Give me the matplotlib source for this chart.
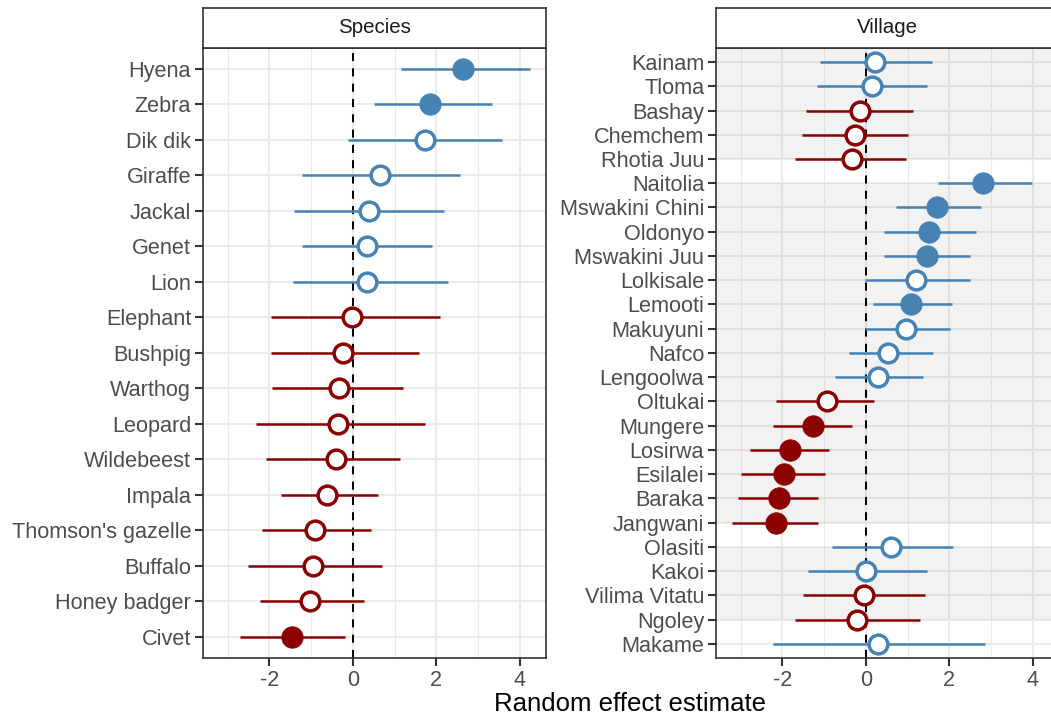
import matplotlib
matplotlib.use("Agg")
import matplotlib.pyplot as plt
import numpy as np

plt.rcParams['font.family'] = ['Liberation Sans', 'DejaVu Sans']

# ---------------- data ----------------
species = ["Hyena", "Zebra", "Dik dik", "Giraffe", "Jackal", "Genet", "Lion",
           "Elephant", "Bushpig", "Warthog", "Leopard", "Wildebeest", "Impala",
           "Thomson's gazelle", "Buffalo", "Honey badger", "Civet"]
species_est = [2.65, 1.85, 1.73, 0.65, 0.38, 0.35, 0.34, -0.01, -0.23, -0.32,
               -0.35, -0.40, -0.61, -0.90, -0.96, -1.02, -1.47]
species_lo = [1.16, 0.50, -0.11, -1.23, -1.42, -1.21, -1.44, -1.97, -1.97, -1.94,
              -2.33, -2.08, -1.72, -2.19, -2.51, -2.22, -2.71]
species_hi = [4.26, 3.33, 3.57, 2.58, 2.19, 1.90, 2.29, 2.08, 1.58, 1.21,
              1.72, 1.14, 0.61, 0.43, 0.69, 0.28, -0.19]

villages = ["Kainam", "Tloma", "Bashay", "Chemchem", "Rhotia Juu", "Naitolia",
            "Mswakini Chini", "Oldonyo", "Mswakini Juu", "Lolkisale", "Lemooti",
            "Makuyuni", "Nafco", "Lengoolwa", "Oltukai", "Mungere", "Losirwa",
            "Esilalei", "Baraka", "Jangwani", "Olasiti", "Kakoi", "Vilima Vitatu",
            "Ngoley", "Makame"]
village_est = [0.23, 0.14, -0.15, -0.25, -0.34, 2.81, 1.71, 1.52, 1.47, 1.20, 1.08,
               0.96, 0.54, 0.30, -0.94, -1.27, -1.83, -1.97, -2.09, -2.16, 0.60,
               0.01, -0.04, -0.20, 0.30]
village_lo = [-1.09, -1.16, -1.43, -1.53, -1.69, 1.73, 0.73, 0.44, 0.44, -0.02, 0.18,
              -0.02, -0.41, -0.73, -2.15, -2.23, -2.77, -2.99, -3.06, -3.22, -0.80,
              -1.38, -1.50, -1.71, -2.22]
village_hi = [1.59, 1.46, 1.12, 1.01, 0.96, 3.98, 2.76, 2.65, 2.50, 2.49, 2.06,
              2.02, 1.60, 1.36, 0.19, -0.33, -0.88, -0.97, -1.14, -1.14, 2.10,
              1.46, 1.43, 1.31, 2.85]

# grey background groups in the Village panel, (first village, last village);
# each band spans from the centre of its first row to the centre of its last row
village_bands = [("Kainam", "Rhotia Juu"), ("Naitolia", "Jangwani"),
                 ("Olasiti", "Ngoley")]

panel_titles = ["Species", "Village"]
x_ticks = [-2, 0, 2, 4]
x_label = "Random effect estimate"

# ---------------- styling ----------------
BLUE = "#4682B4"
RED = "#8B0000"
GRID = "#EBEBEB"
BORDER = "#333333"
TXT = "#4D4D4D"

W, H = 1051, 719
fig = plt.figure(figsize=(W / 100, H / 100), dpi=100)

def fx(px):
    return px / W

def fy(py):
    return 1 - py / H

panel_top, panel_bot = 47.5, 658.3
strip_top = 8.0
panels_px = [(203.0, 546.0), (716.0, 1059.0)]

all_lo = min(min(species_lo), min(village_lo))
all_hi = max(max(species_hi), max(village_hi))
rng = all_hi - all_lo
xlim = (all_lo - 0.05 * rng, all_hi + 0.05 * rng)


def draw_panel(ax, cats, est, lo, hi, bands=None):
    n = len(cats)
    ypos = np.arange(n)[::-1]
    ytop = n - 1 + 0.6
    ax.set_xlim(*xlim)
    ax.set_ylim(-0.6, ytop)
    ax.set_facecolor("white")
    # grid
    for xv in np.arange(-3, 5, 1):
        major = xv in x_ticks
        ax.axvline(xv, color=GRID, lw=1.5 if major else 0.75, zorder=0.5)
    for yv in ypos:
        ax.axhline(yv, color=GRID, lw=1.5, zorder=0.5)
    if bands:
        idx = {c: i for i, c in enumerate(cats)}
        for a, b in bands:
            y1 = ypos[idx[a]]
            if idx[a] == 0:
                y1 = ytop
            y0 = ypos[idx[b]]
            ax.axhspan(y0, y1, color="black", alpha=0.05, lw=0, zorder=0.8)
    ax.axvline(0, color="black", lw=1.45, ls=(0, (4.0, 3.6)), zorder=3)
    for y, e, l, h in zip(ypos, est, lo, hi):
        col = BLUE if e > 0 else RED
        filled = (l > 0) or (h < 0)
        ax.plot([l, h], [y, y], color=col, lw=1.8, solid_capstyle="butt", zorder=4)
        if filled:
            ax.plot(e, y, marker="o", ms=15.5, mfc=col, mec=col, mew=0.5, zorder=5)
        else:
            ax.plot(e, y, marker="o", ms=13.5, mfc="white", mec=col, mew=2.5, zorder=5)
    ax.set_yticks(ypos)
    ax.set_yticklabels(cats)
    ax.set_xticks(x_ticks)
    ax.set_xticklabels([str(t) for t in x_ticks])
    ax.tick_params(axis="both", length=5.5, width=1.5, color=BORDER,
                   labelsize=15.6, labelcolor=TXT, pad=3)
    for s in ax.spines.values():
        s.set_color(BORDER)
        s.set_linewidth(1.2)
        s.set_zorder(6)


datasets = [(species, species_est, species_lo, species_hi, None),
            (villages, village_est, village_lo, village_hi, village_bands)]

for (x0, x1), title, (cats, est, lo, hi, bands) in zip(panels_px, panel_titles, datasets):
    ax = fig.add_axes([fx(x0), fy(panel_bot), fx(x1 - x0), fy(panel_top) - fy(panel_bot)])
    draw_panel(ax, cats, est, lo, hi, bands)
    sax = fig.add_axes([fx(x0), fy(panel_top), fx(x1 - x0), fy(strip_top) - fy(panel_top)])
    sax.set_xticks([])
    sax.set_yticks([])
    sax.set_facecolor("white")
    for s in sax.spines.values():
        s.set_color(BORDER)
        s.set_linewidth(1.2)
    sax.text(0.5, 0.5, title, ha="center", va="center", fontsize=14.8,
             color="#1A1A1A", transform=sax.transAxes)

fig.text(fx(630.5), fy(704), x_label, ha="center", va="center", fontsize=18.5,
         color="black")

fig.savefig("out.png", dpi=100)
